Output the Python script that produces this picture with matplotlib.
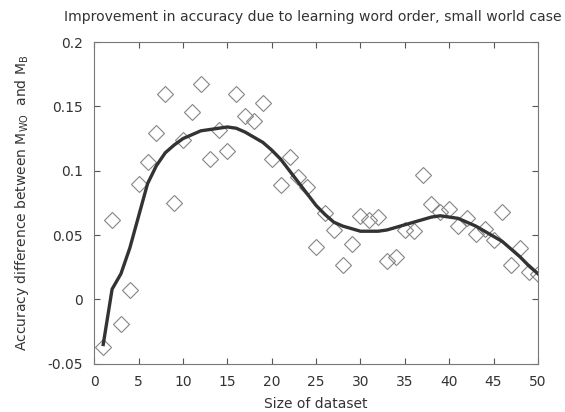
import numpy as np
import matplotlib.pyplot as plt

# data
sizes = np.arange(1, 51)
acc_diff = [-0.037, 0.0615, -0.019, 0.007, 0.0896, 0.1067, 0.129, 0.160, 0.0748, 0.124,
            0.1456, 0.1674, 0.109, 0.132, 0.115, 0.160, 0.1425, 0.139, 0.153, 0.109,
            0.0888, 0.111, 0.095, 0.087, 0.0405, 0.067, 0.0537, 0.027, 0.043, 0.0646,
            0.0615, 0.064, 0.030, 0.033, 0.054, 0.053, 0.097, 0.074, 0.068, 0.070,
            0.057, 0.063, 0.051, 0.0545, 0.046, 0.068, 0.027, 0.040, 0.021, 0.020]
fit = [-0.035, 0.008, 0.020, 0.040, 0.065, 0.090, 0.104, 0.114, 0.120, 0.125,
       0.128, 0.131, 0.132, 0.133, 0.134, 0.133, 0.130, 0.126, 0.122, 0.116,
       0.109, 0.100, 0.091, 0.082, 0.073, 0.066, 0.060, 0.057, 0.055, 0.053,
       0.053, 0.053, 0.054, 0.056, 0.058, 0.060, 0.062, 0.064, 0.065, 0.064,
       0.063, 0.060, 0.057, 0.053, 0.049, 0.045, 0.039, 0.033, 0.026, 0.020]

plt.rcParams['font.family'] = 'DejaVu Sans'
plt.rcParams['font.size'] = 10

fig = plt.figure(figsize=(5.65, 4.12), dpi=100)
ax = fig.add_axes([0.167, 0.117, 0.785, 0.781])

ax.plot(sizes, acc_diff, 'D', ms=8.5, mfc='none', mec='#858585', mew=0.8)
ax.plot(sizes, fit, '-', color='#333333', lw=2.4)

ax.set_xlim(0, 50)
ax.set_ylim(-0.05, 0.2)
ax.set_xticks(np.arange(0, 51, 5))
ax.set_yticks([-0.05, 0, 0.05, 0.1, 0.15, 0.2])
ax.set_yticklabels(['-0.05', '0', '0.05', '0.1', '0.15', '0.2'])
ax.tick_params(direction='in', top=True, right=True, length=4, colors='#555555',
               labelcolor='#333333', pad=8, labelsize=10)
for s in ax.spines.values():
    s.set_color('#777777')

ax.set_xlabel('Size of dataset', color='#333333', labelpad=6)
ax.set_ylabel(r'Accuracy difference between M$_{\mathrm{WO}}$  and M$_{\mathrm{B}}$',
              color='#333333', labelpad=12)
ax.set_title('Improvement in accuracy due to learning word order, small world case',
             color='#333333', pad=15, fontsize=10.1, x=0.493)

fig.savefig('out.png', dpi=100)
